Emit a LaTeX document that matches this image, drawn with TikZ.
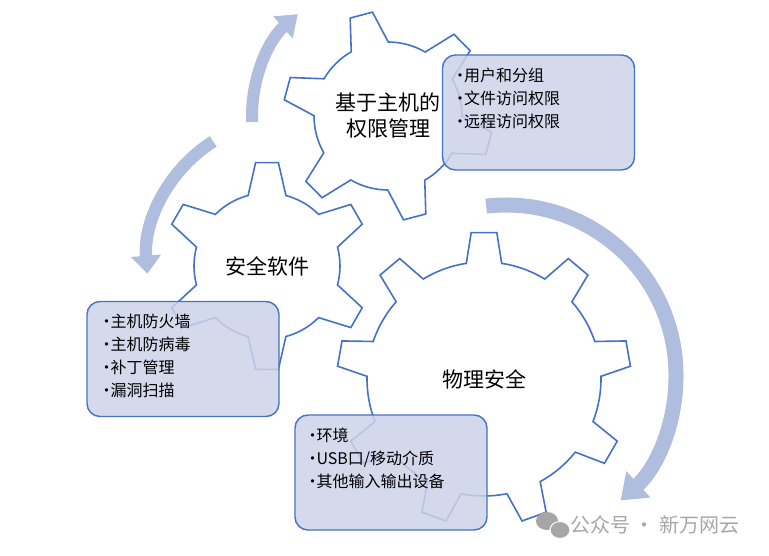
\documentclass[tikz,border=0pt]{standalone}
\usepackage{fontspec}
\setmainfont{Noto Sans CJK SC}
\usepackage{xcolor}
\usetikzlibrary{arrows.meta,positioning}
\definecolor{gearblue}{HTML}{4472C4}
\definecolor{boxfill}{HTML}{CDD2E9}
\definecolor{arrowblue}{HTML}{AFBDDE}
\definecolor{markgray}{HTML}{A6A6A6}

\begin{document}
\begin{tikzpicture}[
  x=1pt,y=1pt,
  gearline/.style={draw=gearblue,line width=1.6pt,fill=white},
  gearlabel/.style={font=\fontsize{21}{26}\selectfont,align=center,inner sep=0pt},
  box/.style={draw=gearblue,line width=1.4pt,rounded corners=13pt,fill=boxfill,fill opacity=0.85,minimum width=192pt,minimum height=115pt,inner sep=0pt},
  items/.style={font=\fontsize{16}{23}\selectfont,align=left,inner sep=0pt,anchor=north west},
  turnarrow/.style={draw=arrowblue,line width=#1}
]
\useasboundingbox (0,0) rectangle (769,555);

% gear centres and arrow centres
\coordinate (g1) at (388,439);
\coordinate (g2) at (267,289);
\coordinate (g3) at (484,176);
\coordinate (loopB) at (290,293);
\coordinate (loopC) at (506,180);

% circular arrows
\draw[turnarrow=12pt,-{Triangle[length=20pt,width=28pt]}] ([shift={(182.5:136)}]g1) arc[start angle=182.5,end angle=131.5,radius=136];
\draw[turnarrow=12.5pt,-{Triangle[length=18pt,width=29pt]}] ([shift={(122.5:143)}]loopB) arc[start angle=122.5,end angle=184.7,radius=143];
\draw[turnarrow=15pt,-{Triangle[length=24pt,width=34pt]}] ([shift={(96.7:170)}]loopC) arc[start angle=96.7,end angle=-47.6,radius=170];

% gears: centre/teeth/outer/root/offset/top half angle/base half angle
\foreach \c/\n/\ro/\ri/\off/\th/\bh in {g3/9/147/117/90/5/8.7, g2/6/104/73/90/6.3/15, g1/6/105/74/104.8/6.3/15}{
  \draw[gearline,shift={(\c)}] ({\off-\bh}:\ri)
    \foreach \k in {1,...,\n}{
      -- ({\off+(\k-1)*360/\n-\th}:\ro) -- ({\off+(\k-1)*360/\n+\th}:\ro)
      -- ({\off+(\k-1)*360/\n+\bh}:\ri)
      arc[start angle={\off+(\k-1)*360/\n+\bh},end angle={\off+\k*360/\n-\bh},radius=\ri]
    } -- cycle;
}

\node[gearlabel] (hostlbl) at (g1) {基于主机的\\权限管理};
\node[gearlabel] (softlbl) at (g2) {安全软件};
\node[gearlabel] (physlbl) at (g3) {物理安全};

% boxes
\node[box] (hostbox) at (538.5,442.5) {};
\node[items,below right=13pt and 10pt of hostbox.north west] (hostitems)
  {\makebox[12pt][l]{•}用户和分组\\\makebox[12pt][l]{•}文件访问权限\\\makebox[12pt][l]{•}远程访问权限};
\node[box] (softbox) at (183,196) {};
\node[items,below right=13pt and 12pt of softbox.north west] (softitems)
  {\makebox[12pt][l]{•}主机防火墙\\\makebox[12pt][l]{•}主机防病毒\\\makebox[12pt][l]{•}补丁管理\\\makebox[12pt][l]{•}漏洞扫描};
\node[box] (physbox) at (391,82.5) {};
\node[items,below right=13pt and 10pt of physbox.north west] (physitems)
  {\makebox[12pt][l]{•}环境\\\makebox[12pt][l]{•}USB口/移动介质\\\makebox[12pt][l]{•}其他输入输出设备};

% watermark
\fill[markgray] (547,34) ellipse (11 and 9);
\fill[markgray,draw=white,line width=1pt] (560,25) ellipse (10 and 8.5);
\node[font=\fontsize{20}{20}\selectfont,text=markgray,anchor=west,inner sep=0pt] (mark) at (570,30) {公众号 · 新万网云};
\end{tikzpicture}
\end{document}
